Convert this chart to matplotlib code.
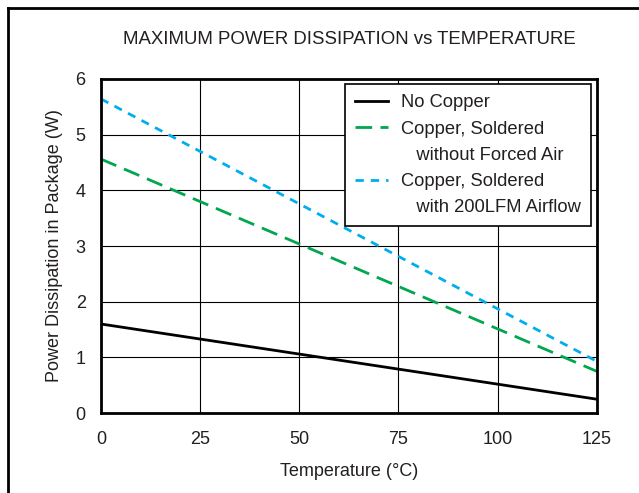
import matplotlib
matplotlib.use('Agg')
import matplotlib.pyplot as plt
from matplotlib.lines import Line2D

plt.rcParams['font.family'] = ['Liberation Sans', 'DejaVu Sans']
plt.rcParams['text.color'] = '#231f20'
plt.rcParams['axes.labelcolor'] = '#231f20'
plt.rcParams['xtick.color'] = '#231f20'
plt.rcParams['ytick.color'] = '#231f20'

temp = [0, 125]
no_copper = [1.60, 0.25]
no_air = [4.56, 0.75]
airflow = [5.64, 0.93]

fig = plt.figure(figsize=(6.39, 4.93), dpi=100)
ax = fig.add_axes([0.158, 0.162, 0.776, 0.678])

l1, = ax.plot(temp, no_copper, color='black', lw=2)
l2, = ax.plot(temp, no_air, color='#00a650', lw=2, dashes=(6, 3))
l3, = ax.plot(temp, airflow, color='#00aeef', lw=2, dashes=(3, 2.5))

ax.set_xlim(0, 125)
ax.set_ylim(0, 6)
ax.set_xticks([0, 25, 50, 75, 100, 125])
ax.set_yticks([0, 1, 2, 3, 4, 5, 6])
ax.grid(True, color='black', lw=0.8)
for s in ax.spines.values():
    s.set_linewidth(2)
ax.tick_params(length=0, labelsize=13)
ax.tick_params(axis='x', pad=13)
ax.tick_params(axis='y', pad=11)
ax.set_xlabel('Temperature (°C)', fontsize=13, labelpad=11)
ax.set_ylabel('Power Dissipation in Package (W)', fontsize=13, labelpad=9)
ax.set_title('MAXIMUM POWER DISSIPATION vs TEMPERATURE', fontsize=13.4, pad=25)

blank = Line2D([], [], color='none')
handles = [l1, l2, blank, l3, blank]
labels = ['No Copper', 'Copper, Soldered', '   without Forced Air',
          'Copper, Soldered', '   with 200LFM Airflow']
leg = ax.legend(handles, labels, loc='upper right', fontsize=13.2, frameon=True,
                fancybox=False, edgecolor='black', framealpha=1,
                handlelength=1.8, handletextpad=0.75, borderpad=0.55,
                borderaxespad=0.3, labelspacing=0.5)
leg.get_frame().set_linewidth(1.2)

# outer frame (left and top edges)
fig.add_artist(Line2D([0.013, 0.013], [0, 0.984], color='black', lw=2, transform=fig.transFigure))
fig.add_artist(Line2D([0.013, 1.0], [0.984, 0.984], color='black', lw=2, transform=fig.transFigure))

fig.savefig('out.png', dpi=100)
